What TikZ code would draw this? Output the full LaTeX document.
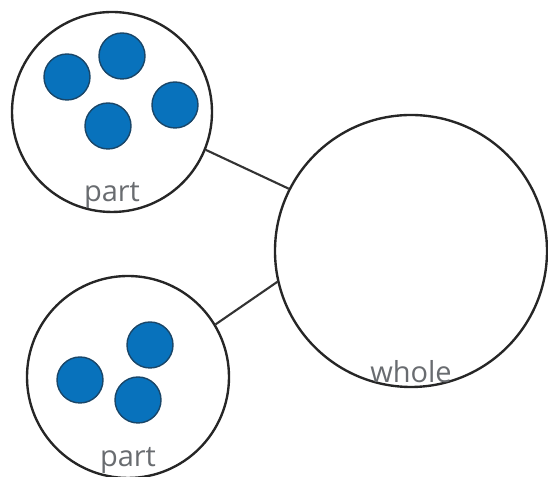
\documentclass[tikz,border=0pt]{standalone}
\usepackage{fontspec}
\setmainfont{Open Sans}
\usetikzlibrary{positioning}
\definecolor{dotblue}{RGB}{8,114,188}
\definecolor{dotedge}{RGB}{25,70,105}
\definecolor{labelgray}{RGB}{105,108,112}
\tikzset{
  ring/.style={draw=black!85, line width=1.35pt, circle, inner sep=0pt},
  dot/.style={circle, fill=dotblue, draw=dotedge, line width=0.8pt, minimum size=0.92cm, inner sep=0pt},
  lbl/.style={text=labelgray, font=\fontsize{16.5}{16.5}\selectfont, inner sep=0pt}
}
\begin{document}
\begin{tikzpicture}
    \useasboundingbox (0,0) rectangle (10.96,9.54);

    % Kreise
    \node[ring, minimum size=4cm] (part1) at (2.24,7.30) {};
    \node[ring, minimum size=4.04cm] (part2) at (2.56,2.00) {};
    \node[ring, minimum size=5.44cm] (whole) at (8.22,4.52) {};

    % Verbindungen
    \draw[line width=1.2pt, black!80] (part1.338) -- (whole.153);
    \draw[line width=1.2pt, black!80] (part2.31) -- (whole.193);

    % Punkte oben
    \node[dot] (dot1) at (1.34,8.00) {};
    \node[dot] (dot2) at (2.44,8.42) {};
    \node[dot] (dot3) at (2.16,7.02) {};
    \node[dot] (dot4) at (3.50,7.44) {};

    % Punkte unten
    \node[dot] (dot5) at (1.60,1.94) {};
    \node[dot] (dot6) at (3.00,2.64) {};
    \node[dot] (dot7) at (2.76,1.54) {};

    % Beschriftung
    \node[lbl, above=0.08cm of part1.south] (label1) {part};
    \node[lbl, above=0.1cm of part2.south] (label2) {part};
    \node[lbl, above=0.1cm of whole.south] (label3) {whole};
\end{tikzpicture}
\end{document}
